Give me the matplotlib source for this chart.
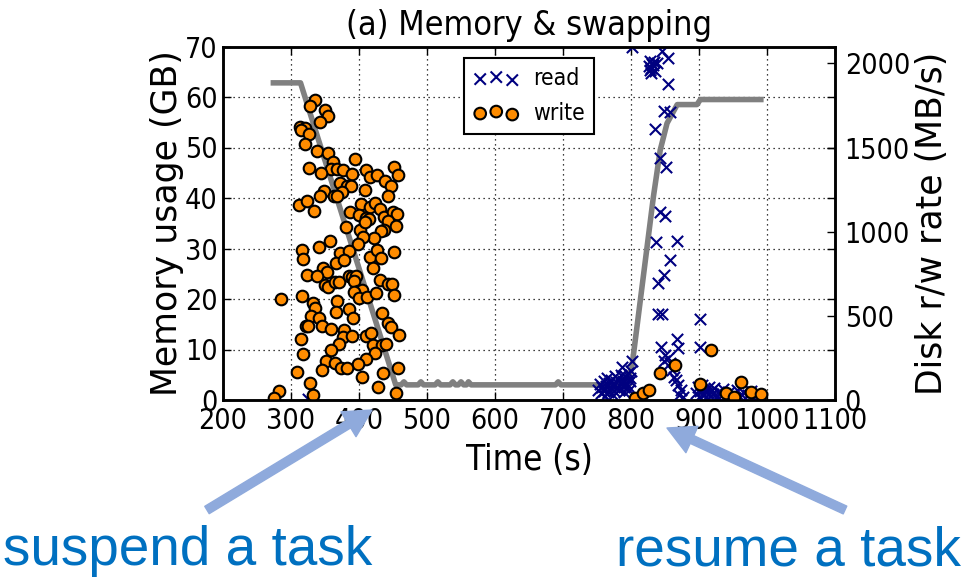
import matplotlib
matplotlib.use("Agg")
import matplotlib.pyplot as plt

# memory usage over time (GB)
mem_t = [270, 314, 454, 462, 466, 470, 487, 491, 495, 512, 516, 520, 534, 538, 542,
         546, 550, 554, 558, 561, 565, 689, 693, 697, 790, 801, 833, 843, 853, 868,
         897, 902, 995]
mem_gb = [62.8, 62.8, 3.0, 3.0, 3.6, 3.0, 3.0, 3.6, 3.0, 3.0, 3.6, 3.0, 3.0, 3.6, 3.0,
          3.0, 3.6, 3.0, 3.0, 3.6, 3.0, 3.0, 3.6, 3.0, 3.0, 6.2, 40.3, 49.5, 54.8, 58.5,
          58.5, 59.5, 59.5]

# disk write rate (MB/s)
write_t = [336, 328, 350, 355, 342, 313, 321, 315, 327, 321, 338, 354, 362, 394, 326,
           359, 368, 377, 344, 411, 390, 452, 458, 416, 427, 438, 447, 372, 382, 388,
           409, 375, 348, 342, 363, 368, 442, 312, 323, 334, 403, 416, 424, 431, 387,
           400, 411, 415, 437, 450, 456, 443, 455, 381, 402, 409, 437, 432, 422, 406,
           398, 357, 341, 316, 318, 372, 385, 366, 378, 416, 426, 432, 421, 451, 347,
           353, 324, 338, 350, 355, 364, 371, 385, 390, 395, 392, 399, 405, 393, 400,
           412, 425, 431, 442, 448, 452, 286, 316, 333, 336, 367, 366, 386, 391, 434,
           329, 341, 322, 325, 345, 359, 378, 376, 389, 442, 447, 459, 411, 417, 315,
           420, 434, 439, 370, 359, 423, 318, 351, 364, 411, 399, 345, 373, 382, 309,
           435, 457, 404, 328, 428, 333, 283, 275, 454,
           806, 817, 826, 842, 864, 901, 917, 939, 952, 962, 976, 991]
write_v = [1785, 1749, 1721, 1685, 1650, 1622, 1616, 1602, 1582, 1521, 1481, 1467, 1412, 1432, 1378,
           1372, 1372, 1368, 1348, 1368, 1344, 1384, 1335, 1325, 1339, 1299, 1269, 1289, 1269, 1273,
           1249, 1235, 1239, 1210, 1210, 1214, 1210, 1156, 1180, 1120, 1164, 1144, 1170, 1134, 1114,
           1101, 1081, 1075, 1087, 1116, 1104, 1061, 1035, 1025, 1011, 1055, 1011, 1001, 962, 966,
           928, 946, 908, 892, 839, 872, 886, 813, 829, 849, 892, 843, 783, 878, 783,
           759, 740, 738, 684, 670, 700, 700, 738, 730, 734, 704, 650, 654, 644, 605,
           611, 635, 714, 690, 690, 625, 599, 615, 579, 545, 589, 522, 539, 490, 519,
           500, 490, 442, 440, 440, 420, 416, 377, 383, 456, 436, 387, 383, 400, 363,
           327, 327, 333, 333, 297, 282, 272, 234, 222, 242, 214, 178, 188, 192, 168,
           159, 192, 139, 103, 75, 30, 53, 10, 44,
           12, 40, 59, 161, 208, 98, 297, 40, 20, 107, 48, 36]

# disk read rate (MB/s)
read_t = [802, 845, 855, 828, 833, 826, 836, 838, 828, 830, 831, 834, 829, 855, 848,
          858, 836, 843, 852, 843, 850, 837, 868, 857, 848, 839, 839, 846, 902, 867,
          844, 869, 901, 850, 855, 858, 860, 863, 869, 873, 866, 871, 876, 848, 801,
          787, 325,
          752, 754, 756, 758, 760, 761, 763, 765, 766, 768, 770, 771, 773, 775, 776,
          778, 780, 781, 783, 785, 786, 788, 790, 791, 793, 795, 796, 798, 799, 800,
          797, 789, 774, 762,
          896, 898, 900, 902, 904, 906, 908, 910, 912, 914, 916, 918, 920, 922, 925,
          928, 930, 933, 936, 940, 944, 948, 952, 956, 960, 964, 968, 972, 976, 980,
          984, 988]
read_v = [2095, 2072, 2033, 2013, 1993, 1983, 1953, 2003, 1963, 1975, 1995, 2008, 1940, 1880, 1715,
          1709, 1610, 1438, 1384, 1114, 1091, 936, 942, 833, 740, 694, 512, 512, 480, 361,
          313, 307, 313, 268, 248, 218, 178, 139, 89, 59, 120, 30, 15, 230, 234,
          194, 5,
          60, 95, 40, 75, 110, 55, 85, 130, 45, 100, 70, 120, 90, 55, 140,
          105, 80, 125, 60, 150, 95, 115, 75, 140, 100, 160, 85, 130, 110, 170,
          60, 45, 30, 25,
          40, 75, 20, 55, 90, 30, 65, 15, 45, 80, 25, 55, 35, 70, 20,
          50, 10, 40, 65, 25, 50, 15, 35, 60, 20, 45, 10, 30, 55, 15,
          35, 20]

x_ticks = list(range(200, 1101, 100))
gb_ticks = list(range(0, 71, 10))
rate_ticks = list(range(0, 2001, 500))

plt.rcParams["font.family"] = ["DejaVu Sans"]
plt.rcParams["font.stretch"] = "condensed"

fig = plt.figure(figsize=(9.65, 5.77), dpi=100)
ax = fig.add_axes([223 / 965, 1 - 400 / 577, 612 / 965, 353.5 / 577])
ax2 = ax.twinx()

ax.plot(mem_t, mem_gb, color="#808080", lw=4, solid_capstyle="butt",
        solid_joinstyle="round")
ax2.scatter(read_t, read_v, s=66, marker="x", c="navy", linewidths=1.5, label="read")
ax2.scatter(write_t, write_v, s=70, c="darkorange", edgecolors="black",
            linewidths=1.5, label="write")

ax.set_xlim(200, 1100)
ax.set_ylim(0, 70)
ax2.set_ylim(0, 2100)
ax.set_xticks(x_ticks)
ax.set_yticks(gb_ticks)
ax2.set_yticks(rate_ticks)

ax.grid(True, color="black", linestyle=(0, (1, 3)), lw=0.9)
ax.tick_params(direction="in", length=6, width=1, top=True, right=True,
               labelsize=20.5, pad=5)
ax.tick_params(axis="y", pad=4)
ax2.tick_params(direction="in", length=6, width=1, labelsize=20.5, pad=7)
for a in (ax, ax2):
    for sp in a.spines.values():
        sp.set_linewidth(1.8)

ax.set_title("(a) Memory & swapping", fontsize=24.5, pad=8)
ax.set_xlabel("Time (s)", fontsize=25)
ax.xaxis.set_label_coords(0.5, -0.122)
ax.set_ylabel("Memory usage (GB)", fontsize=25, fontstretch="normal")
ax.yaxis.set_label_coords(-0.064, 0.5)
ax2.set_ylabel("Disk r/w rate (MB/s)", fontsize=25, fontstretch="normal")
ax2.yaxis.set_label_coords(1.131, 0.5)

leg = ax2.legend(loc="upper center", scatterpoints=3, fontsize=16.5, fancybox=False,
                 edgecolor="black", framealpha=1, handletextpad=0.6)
leg.get_frame().set_linewidth(1.5)

# slide annotations
arrow_kw = dict(arrowstyle="simple,head_length=0.9,head_width=0.95,tail_width=0.28",
                mutation_scale=22, color="#8FAADC", shrinkA=0, shrinkB=0)
ax.annotate("", xy=(372, 577 - 410), xytext=(207, 577 - 510), xycoords="figure pixels",
            textcoords="figure pixels", arrowprops=arrow_kw, annotation_clip=False)
ax.annotate("", xy=(667, 577 - 428), xytext=(845, 577 - 510), xycoords="figure pixels",
            textcoords="figure pixels", arrowprops=arrow_kw, annotation_clip=False)
fig.text(3 / 965, 12 / 577, "suspend a task", color="#0070C0", fontsize=39.5,
         family="Liberation Sans", fontstretch="normal", ha="left", va="baseline")
fig.text(961 / 965, 12 / 577, "resume a task", color="#0070C0", fontsize=39.5,
         family="Liberation Sans", fontstretch="normal", ha="right", va="baseline")

fig.savefig("out.png", dpi=100)
